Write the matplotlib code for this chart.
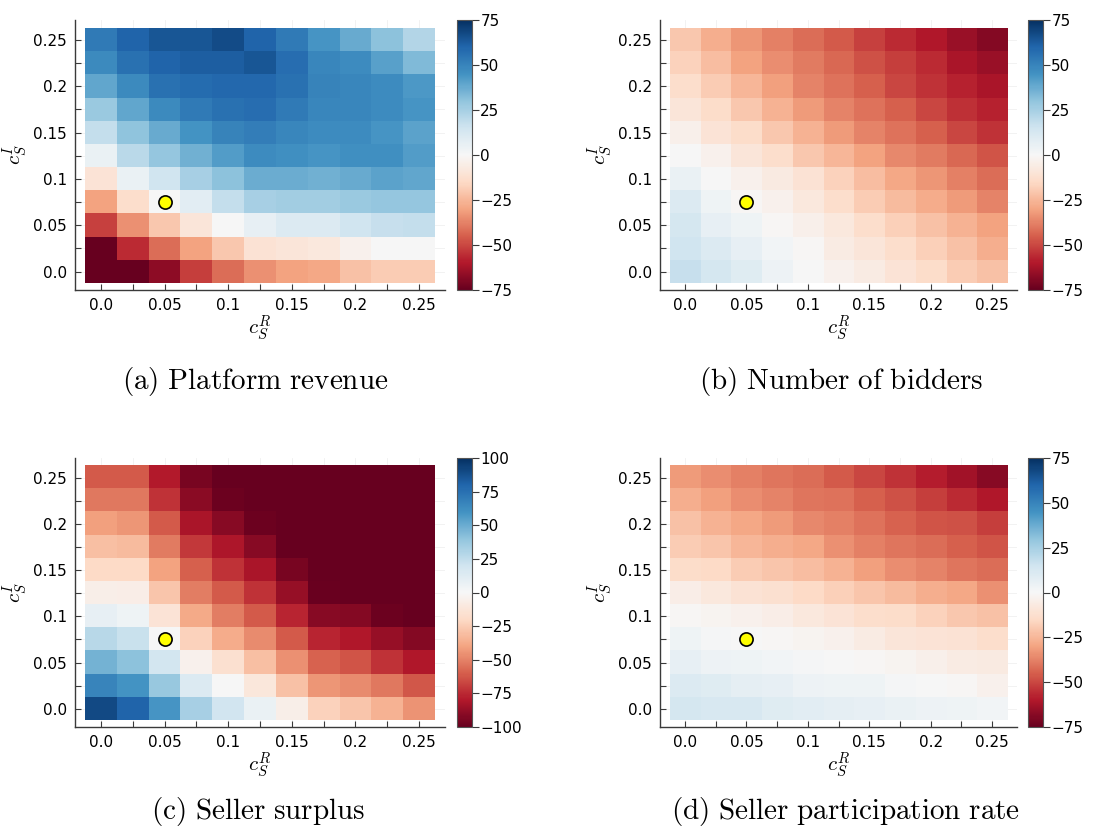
import numpy as np
import matplotlib
matplotlib.use("Agg")
import matplotlib.pyplot as plt
from matplotlib.ticker import FixedLocator

plt.rcParams["mathtext.fontset"] = "cm"
plt.rcParams["font.family"] = ["DejaVu Sans"]

# grid of cost parameters
c_R = [0.0, 0.025, 0.05, 0.075, 0.1, 0.125, 0.15, 0.175, 0.2, 0.225, 0.25]
c_I = [0.0, 0.025, 0.05, 0.075, 0.1, 0.125, 0.15, 0.175, 0.2, 0.225, 0.25]
tick_vals = [0.0, 0.05, 0.1, 0.15, 0.2, 0.25]
tick_labels = ["0.0", "0.05", "0.1", "0.15", "0.2", "0.25"]

# percentage changes; rows listed from c_I = 0.25 (top) down to c_I = 0.0
platform_revenue = [
    [53, 60, 64, 64, 67, 60, 53, 44, 38, 31, 22],
    [48, 56, 60, 62, 62, 64, 57, 49, 47, 41, 33],
    [39, 48, 56, 58, 59, 59, 56, 50, 49, 47, 43],
    [28, 39, 48, 53, 56, 57, 53, 49, 49, 47, 44],
    [18, 30, 38, 45, 50, 52, 49, 47, 47, 44, 40],
    [5, 20, 29, 36, 42, 47, 46, 44, 46, 46, 42],
    [-10, 5, 15, 25, 31, 37, 37, 36, 38, 40, 39],
    [-30, -13, 0, 8, 18, 25, 26, 26, 28, 29, 29],
    [-51, -34, -20, -9, 0, 6, 10, 10, 15, 17, 18],
    [-80, -56, -42, -30, -20, -11, -9, -8, -3, 0, 0],
    [-85, -85, -67, -52, -42, -34, -30, -29, -22, -19, -19],
]

number_of_bidders = [
    [-20, -27, -33, -38, -42, -46, -51, -56, -60, -65, -69],
    [-17, -23, -30, -35, -39, -43, -48, -52, -56, -61, -65],
    [-13, -19, -25, -31, -37, -41, -45, -50, -54, -58, -61],
    [-9, -14, -20, -26, -32, -37, -41, -45, -50, -55, -58],
    [-4, -10, -14, -20, -26, -32, -37, -41, -45, -50, -54],
    [0, -3, -9, -13, -20, -25, -30, -36, -39, -43, -47],
    [5, 0, -3, -7, -11, -17, -23, -29, -33, -38, -42],
    [10, 3, -1, -3, -8, -13, -19, -24, -28, -32, -37],
    [13, 6, 3, -1, -4, -8, -13, -18, -22, -26, -30],
    [15, 10, 6, 2, -1, -6, -9, -13, -18, -22, -27],
    [17, 13, 9, 4, 0, -3, -6, -10, -14, -19, -22],
]

seller_surplus = [
    [-61, -61, -79, -95, -110, -110, -110, -110, -110, -110, -110],
    [-53, -53, -72, -90, -98, -103, -110, -110, -110, -110, -110],
    [-41, -44, -61, -82, -91, -98, -110, -110, -110, -110, -110],
    [-30, -32, -52, -71, -81, -91, -110, -110, -110, -110, -110],
    [-20, -20, -40, -60, -72, -82, -95, -110, -110, -110, -110],
    [-6, -7, -28, -51, -61, -72, -87, -99, -105, -110, -110],
    [8, 4, -14, -38, -51, -61, -76, -91, -92, -98, -102],
    [28, 22, 0, -23, -37, -47, -61, -76, -80, -87, -92],
    [47, 41, 18, -4, -16, -30, -46, -59, -63, -72, -80],
    [66, 60, 38, 14, 0, -11, -29, -44, -47, -53, -62],
    [90, 80, 59, 33, 19, 7, -6, -23, -28, -35, -45],
]

participation_rate = [
    [-32, -35, -38, -40, -42, -46, -50, -54, -59, -63, -68],
    [-27, -31, -35, -37, -40, -41, -45, -48, -52, -56, -60],
    [-22, -26, -29, -32, -36, -38, -41, -44, -47, -48, -52],
    [-19, -21, -25, -27, -29, -34, -38, -40, -42, -45, -47],
    [-14, -15, -19, -21, -23, -26, -31, -35, -37, -40, -42],
    [-5, -8, -11, -12, -15, -18, -21, -24, -27, -29, -34],
    [-1, -2, -3, -5, -8, -10, -13, -14, -17, -20, -22],
    [3, 1, 0, -1, -2, -3, -6, -9, -10, -11, -13],
    [6, 4, 3, 2, 1, 0, -1, -2, -4, -6, -7],
    [10, 9, 7, 6, 4, 3, 3, 1, 0, -1, -3],
    [13, 12, 12, 9, 8, 7, 6, 5, 4, 3, 2],
]

baseline = (0.05, 0.075)

W, H = 1102, 831
fig = plt.figure(figsize=(W / 100, H / 100), dpi=100)


def px_axes(x0, y0, x1, y1):
    return fig.add_axes([x0 / W, 1 - y1 / H, (x1 - x0) / W, (y1 - y0) / H])


panels = [
    (platform_revenue, 75, "(a)\\ Platform\\ revenue", (75, 20, 445, 290), (457, 20, 472, 290), (255, 381)),
    (number_of_bidders, 75, "(b)\\ Number\\ of\\ bidders", (660, 20, 1017, 290), (1028, 20, 1043, 290), (841, 381)),
    (seller_surplus, 100, "(c)\\ Seller\\ surplus", (75, 458, 445, 727), (457, 458, 472, 727), (258, 812)),
    (participation_rate, 75, "(d)\\ Seller\\ participation\\ rate", (660, 458, 1017, 727), (1028, 458, 1043, 727), (846, 812)),
]

step = c_R[1] - c_R[0]
spine_col = "#3a3a3a"

for data, lim, caption, abox, cbox, cap_xy in panels:
    ax = px_axes(*abox)
    arr = np.array(data, dtype=float)
    im = ax.imshow(arr, cmap="RdBu", vmin=-lim, vmax=lim, origin="upper",
                   extent=[c_R[0] - step / 2, c_R[-1] + step / 2,
                           c_I[0] - step / 2, c_I[-1] + step / 2],
                   aspect="auto", interpolation="nearest", zorder=1)
    ax.set_xlim(-0.0204, 0.2704)
    ax.set_ylim(-0.0198, 0.2714)
    ax.plot([baseline[0]], [baseline[1]], "o", ms=9.5, mfc="#ffff00",
            mec="black", mew=1.2, zorder=3)

    minor = [v for v in c_R if all(abs(v - t) > 1e-9 for t in tick_vals)]
    ax.xaxis.set_major_locator(FixedLocator(tick_vals))
    ax.yaxis.set_major_locator(FixedLocator(tick_vals))
    ax.xaxis.set_minor_locator(FixedLocator(minor))
    ax.yaxis.set_minor_locator(FixedLocator(minor))
    ax.set_xticklabels(tick_labels)
    ax.set_yticklabels(tick_labels)
    ax.tick_params(which="both", direction="in", length=4, width=0.8,
                   color=spine_col, labelsize=11, pad=6)
    ax.set_axisbelow(True)
    ax.grid(which="both", color="#000000", alpha=0.06, linewidth=0.6)
    for s in ("top", "right"):
        ax.spines[s].set_visible(False)
    for s in ("left", "bottom"):
        ax.spines[s].set_color(spine_col)
        ax.spines[s].set_linewidth(1.0)

    ax.set_xlabel(r"$c_S^R$", fontsize=15, labelpad=0)
    ax.set_ylabel(r"$c_S^I$", fontsize=15, labelpad=2)

    cax = px_axes(*cbox)
    ticks = [-lim, -lim * 2 / 3, -lim / 3, 0, lim / 3, lim * 2 / 3, lim] if lim == 75 else \
        [-100, -75, -50, -25, 0, 25, 50, 75, 100]
    cb = fig.colorbar(im, cax=cax, ticks=ticks)
    cb.ax.set_yticklabels([f"{int(round(t))}".replace("-", "\u2212") for t in ticks])
    cb.ax.tick_params(length=5, width=0.8, color=spine_col, labelsize=11, pad=1)
    cb.outline.set_edgecolor("#555555")
    cb.outline.set_linewidth(0.8)

    fig.text(cap_xy[0] / W, 1 - cap_xy[1] / H, "$\\mathrm{" + caption + "}$",
             ha="center", va="center", fontsize=21)

fig.savefig("out.png", dpi=100)
